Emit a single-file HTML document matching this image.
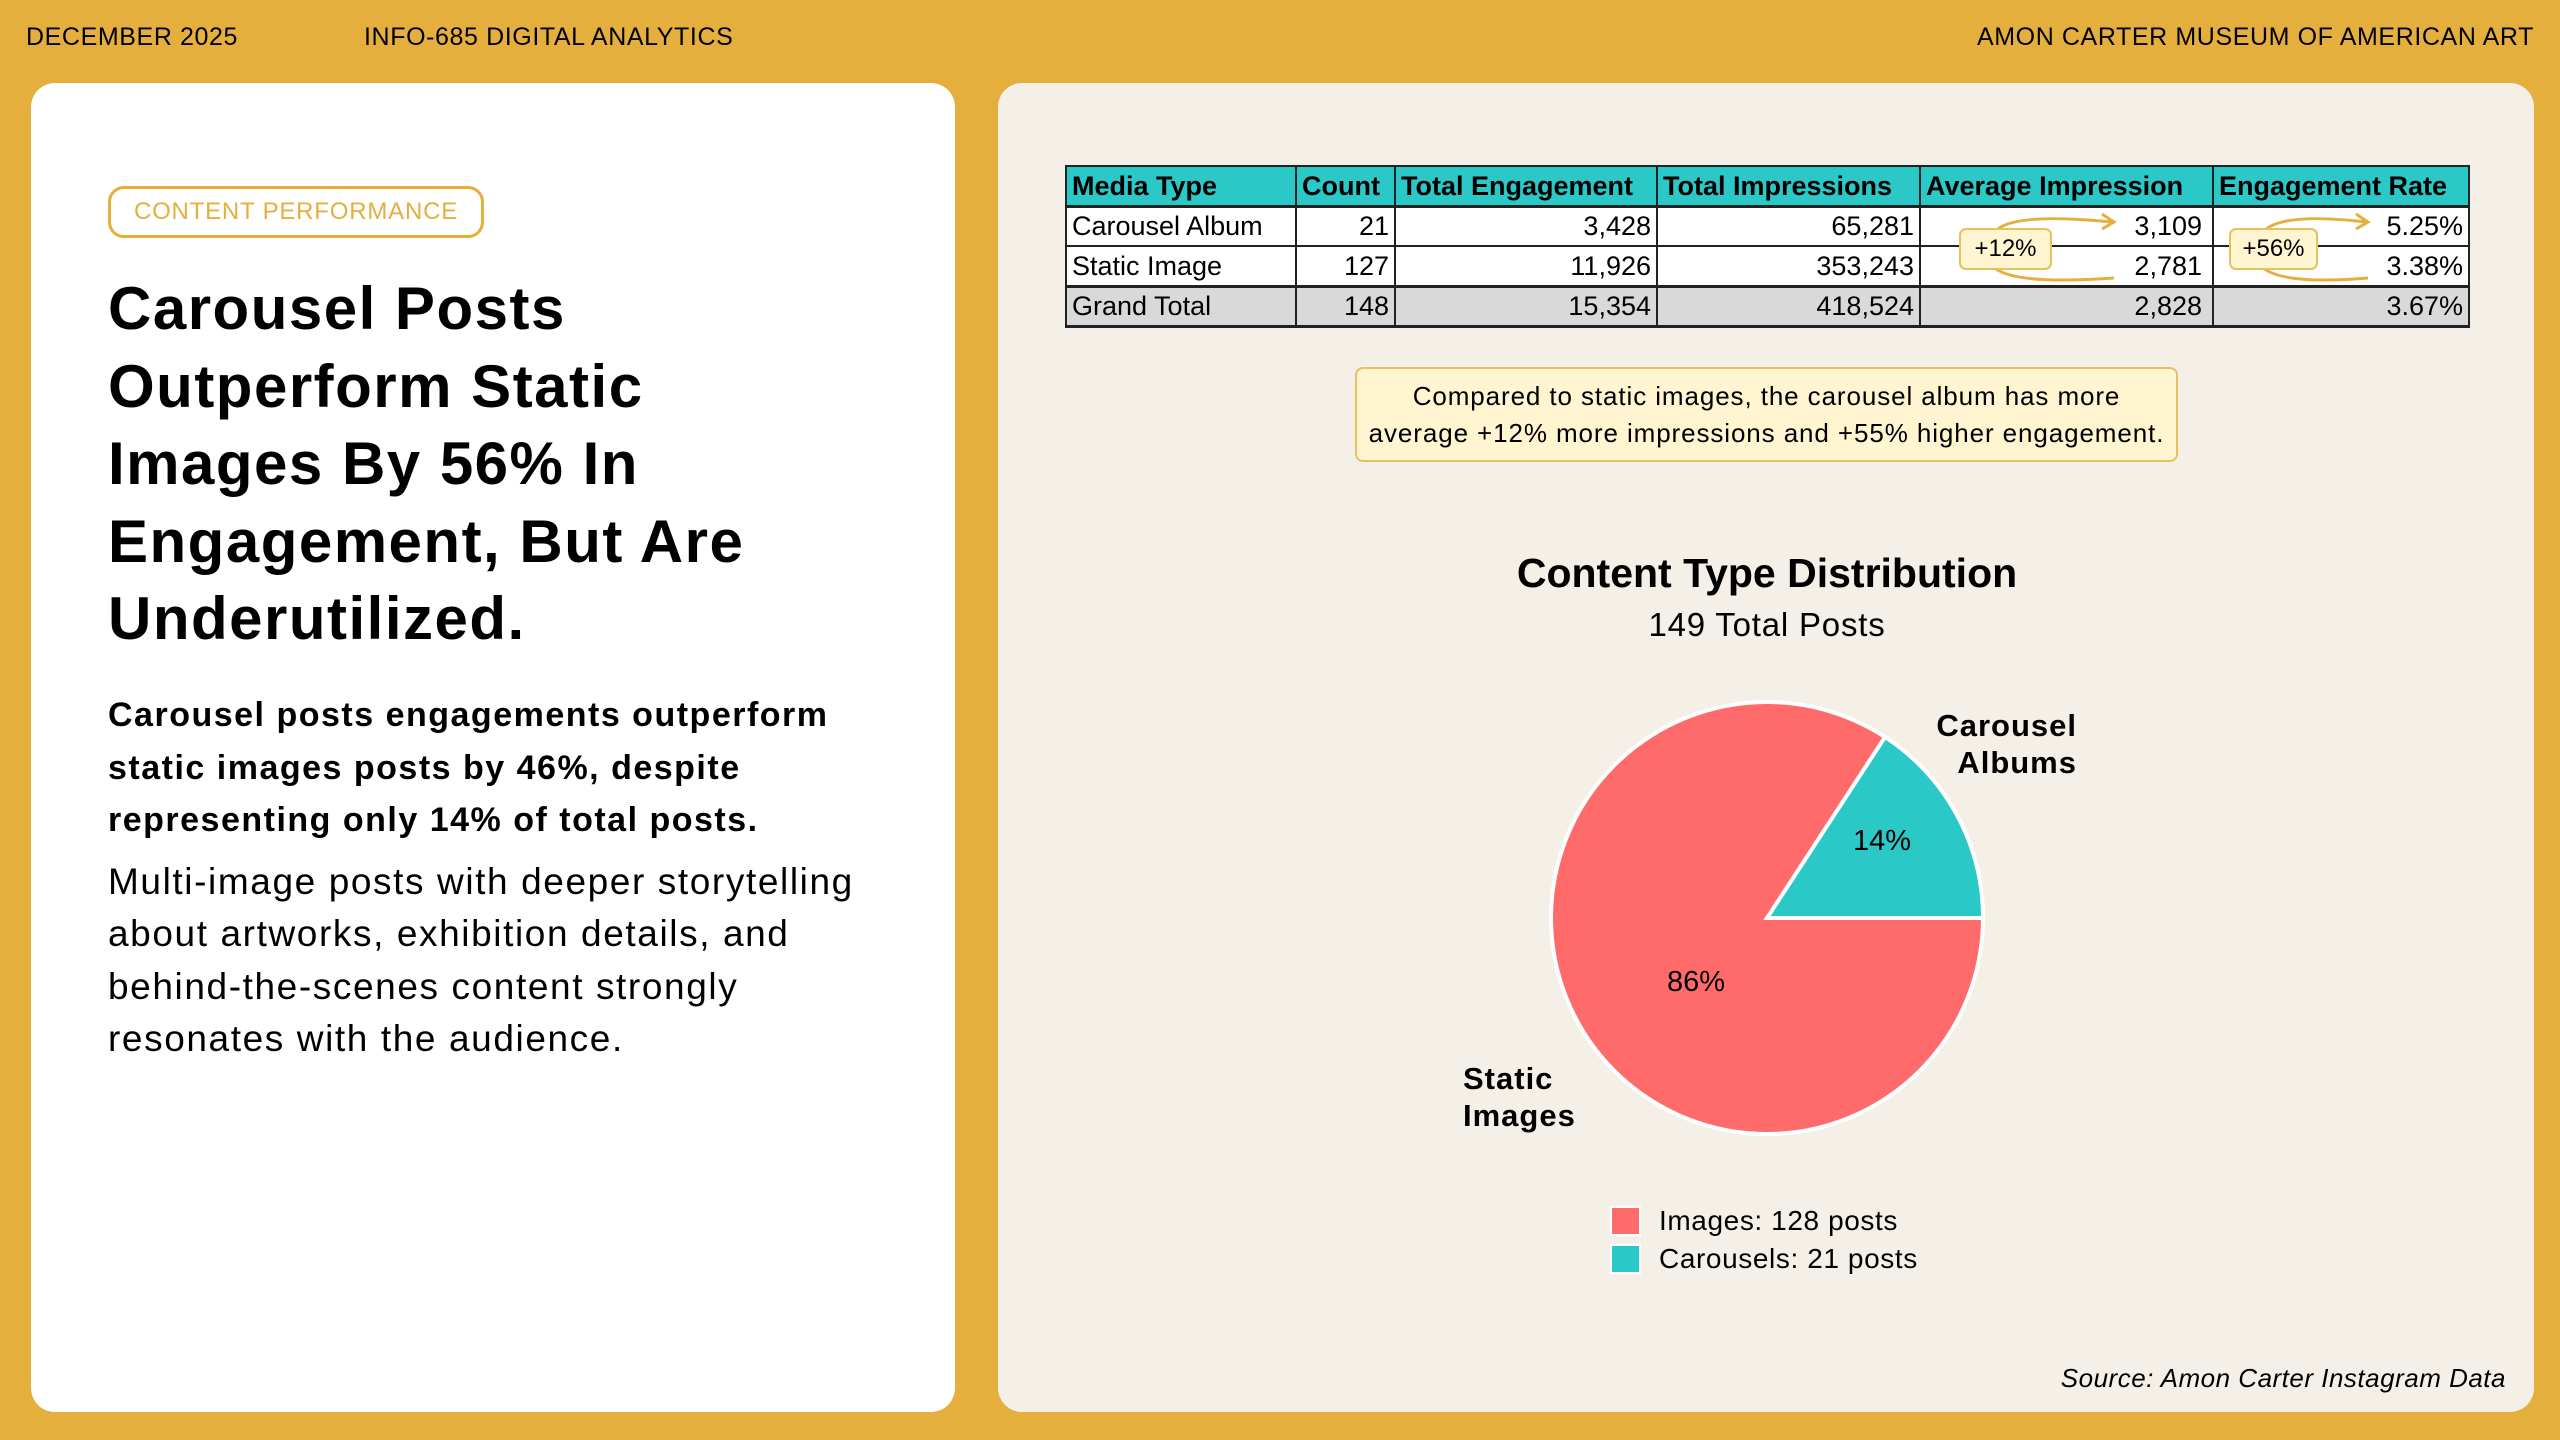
<!DOCTYPE html>
<html><head><meta charset="utf-8"><style>
*{margin:0;padding:0;box-sizing:border-box}
body{width:2560px;height:1440px;background:#E4AF3C;font-family:"Liberation Sans",sans-serif;position:relative;overflow:hidden;color:#000}
.a{position:absolute;white-space:nowrap}
.hdr{font-size:25px;top:23px;letter-spacing:0.6px}
#left{position:absolute;left:31px;top:83px;width:924px;height:1329px;background:#fff;border-radius:24px}
#right{position:absolute;left:998px;top:83px;width:1536px;height:1329px;background:#F4F0E8;border-radius:24px}
.tag{left:108px;top:186px;width:376px;height:52px;border:3px solid #E4AF3C;border-radius:16px;color:#E4AF3C;font-size:24px;letter-spacing:0.8px;text-align:center;line-height:46px}
h1{position:absolute;left:108px;top:270px;font-size:60px;line-height:77.5px;font-weight:bold;letter-spacing:1.5px}
.sub{position:absolute;left:108px;top:689px;font-size:34px;line-height:52.5px;font-weight:bold;letter-spacing:1.5px}
.body{position:absolute;left:108px;top:856px;font-size:37px;line-height:52.3px;letter-spacing:1.6px}
table{position:absolute;left:1065px;top:165px;border-collapse:collapse;font-size:27px}
td{border:2px solid #222;height:40px;padding:0 5px;line-height:36px}
tr.h td{background:#2BC8C8;font-weight:bold;border-bottom:3px solid #222}
tr.g td{background:#D9D9D9;border-top:3px solid #222;border-bottom:3px solid #222}
td.r{text-align:right}
tr.w td{background:#fff}
.call{left:1355px;top:367px;width:823px;height:95px;background:#FFF5D1;border:2px solid #E8C060;border-radius:8px;font-size:26px;letter-spacing:0.9px;text-align:center;line-height:37px;padding-top:9px}
.pb{background:#FFF5D1;border:2px solid #E8C060;border-radius:7px;font-size:24px;text-align:center;line-height:38px;height:42px}
</style></head><body>
<div class="a hdr" style="left:26px">DECEMBER 2025</div>
<div class="a hdr" style="left:364px">INFO-685 DIGITAL ANALYTICS</div>
<div class="a hdr" style="right:26px">AMON CARTER MUSEUM OF AMERICAN ART</div>
<div id="left"></div>
<div id="right"></div>
<div class="a tag">CONTENT PERFORMANCE</div>
<h1>Carousel Posts<br>Outperform Static<br>Images By 56% In<br>Engagement, But Are<br>Underutilized.</h1>
<div class="sub">Carousel posts engagements outperform<br>static images posts by 46%, despite<br>representing only 14% of total posts.</div>
<div class="body">Multi-image posts with deeper storytelling<br>about artworks, exhibition details, and<br>behind-the-scenes content strongly<br>resonates with the audience.</div>
<table>
<colgroup><col style="width:230px"><col style="width:99px"><col style="width:262px"><col style="width:263px"><col style="width:293px"><col style="width:256px"></colgroup>
<tr class="h"><td>Media Type</td><td>Count</td><td>Total Engagement</td><td>Total Impressions</td><td>Average Impression</td><td>Engagement Rate</td></tr>
<tr class="w"><td>Carousel Album</td><td class="r">21</td><td class="r">3,428</td><td class="r">65,281</td><td class="r" style="padding-right:10px">3,109</td><td class="r">5.25%</td></tr>
<tr class="w"><td>Static Image</td><td class="r">127</td><td class="r">11,926</td><td class="r">353,243</td><td class="r" style="padding-right:10px">2,781</td><td class="r">3.38%</td></tr>
<tr class="g"><td>Grand Total</td><td class="r">148</td><td class="r">15,354</td><td class="r">418,524</td><td class="r" style="padding-right:10px">2,828</td><td class="r">3.67%</td></tr>
</table>
<svg class="a" style="left:0;top:0" width="2560" height="1440">
<g fill="none" stroke="#E4AF3C" stroke-width="3">
<path d="M1995 232 Q2010 212 2112 222"/><path d="M2102 214 L2114 222 L2102 229"/>
<path d="M1995 268 Q2015 285 2114 278"/>
<path d="M2263 232 Q2280 212 2366 222"/><path d="M2356 214 L2368 222 L2356 229"/>
<path d="M2263 268 Q2285 285 2368 278"/>
</g></svg>
<div class="a pb" style="left:1959px;top:228px;width:93px">+12%</div>
<div class="a pb" style="left:2229px;top:228px;width:89px">+56%</div>
<div class="a call">Compared to static images, the carousel album has more<br>average +12% more impressions and +55% higher engagement.</div>
<div class="a" style="left:1467px;width:600px;top:550px;text-align:center;font-size:41px;font-weight:bold">Content Type Distribution</div>
<div class="a" style="left:1467px;width:600px;top:606px;text-align:center;font-size:33px;letter-spacing:0.8px">149 Total Posts</div>
<svg class="a" style="left:0;top:0" width="2560" height="1440">
<circle cx="1767" cy="918" r="216" fill="#FF6B6B" stroke="#fff" stroke-width="4"/>
<path d="M1767 918 L1983 918 A216 216 0 0 0 1885 737 Z" fill="#2BC8C8" stroke="#fff" stroke-width="4"/>
<text x="1882" y="850" font-size="29" text-anchor="middle" font-family="Liberation Sans">14%</text>
<text x="1696" y="991" font-size="29" text-anchor="middle" font-family="Liberation Sans">86%</text>
<text x="2077" y="736" font-size="31" font-weight="bold" text-anchor="end" font-family="Liberation Sans" letter-spacing="1">Carousel</text>
<text x="2077" y="773" font-size="31" font-weight="bold" text-anchor="end" font-family="Liberation Sans" letter-spacing="1">Albums</text>
<text x="1463" y="1089" font-size="31" font-weight="bold" font-family="Liberation Sans" letter-spacing="1">Static</text>
<text x="1463" y="1126" font-size="31" font-weight="bold" font-family="Liberation Sans" letter-spacing="1">Images</text>
<rect x="1611" y="1207" width="29" height="28" fill="#FF6B6B" stroke="#fff" stroke-width="2"/>
<rect x="1611" y="1245" width="29" height="28" fill="#2BC8C8" stroke="#fff" stroke-width="2"/>
<text x="1659" y="1230" font-size="28" font-family="Liberation Sans" letter-spacing="0.6">Images: 128 posts</text>
<text x="1659" y="1268" font-size="28" font-family="Liberation Sans" letter-spacing="0.6">Carousels: 21 posts</text>
<text x="2506" y="1387" font-size="26" font-style="italic" text-anchor="end" font-family="Liberation Sans" letter-spacing="0.5">Source: Amon Carter Instagram Data</text>
</svg>
</body></html>
